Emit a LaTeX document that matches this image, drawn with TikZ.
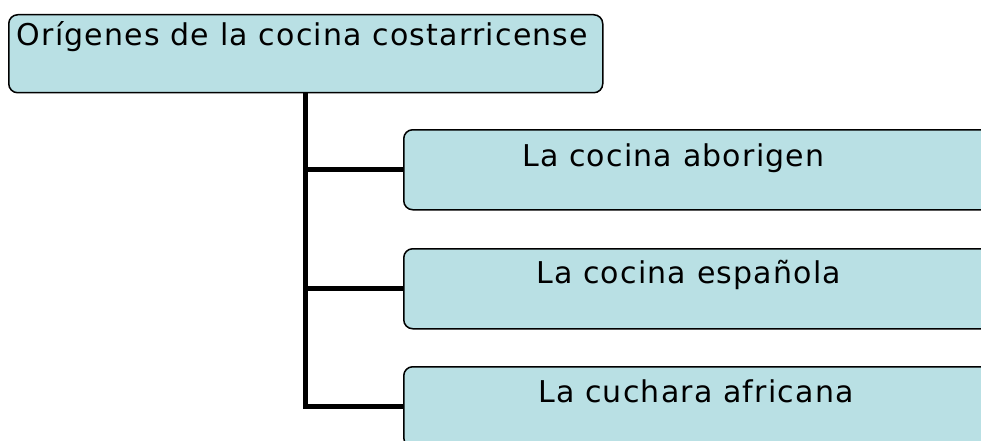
\documentclass[tikz,border=0pt]{standalone}
\usepackage{fontspec}
\newfontfamily\boxfont{DejaVu Sans}[LetterSpace=4]
\definecolor{boxblue}{RGB}{185,224,228}
\tikzset{
  box/.style={draw, line width=1.5pt, fill=boxblue, rounded corners=9pt, inner sep=0pt, anchor=north west},
  lbl/.style={anchor=base west, inner sep=0pt, font=\boxfont\fontsize{30}{36}\selectfont},
  link/.style={line width=5pt}
}
\begin{document}
\begin{tikzpicture}[x=1pt, y=-1pt]
            \useasboundingbox (0,0) rectangle (981,441);
            \clip (0,0) rectangle (981,441);

            \node at (8,14) [box, minimum width=594pt, minimum height=78pt] (root) {};
            \node at (403,129) [box, minimum width=620pt, minimum height=80pt] (abo) {};
            \node at (403,248) [box, minimum width=620pt, minimum height=80pt] (esp) {};
            \node at (403,366) [box, minimum width=620pt, minimum height=80pt] (afr) {};

            \node at (16.5,46) [lbl] (root-t) {Orígenes de la cocina costarricense};
            \node at (522,166) [lbl] (abo-t) {La cocina aborigen};
            \node at (536,283) [lbl] (esp-t) {La cocina española};
            \node at (538,402) [lbl] (afr-t) {La cuchara africana};

            \draw[link] (root.south) |- (abo.west);
            \draw[link] (root.south) |- (esp.west);
            \draw[link] (root.south) |- (afr.west);
        \end{tikzpicture}
\end{document}
